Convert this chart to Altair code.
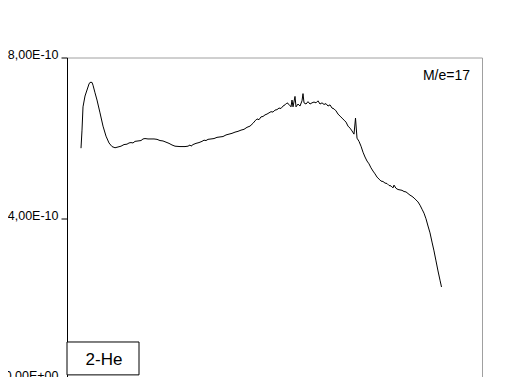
import altair as alt
import pandas as pd

# x position (arbitrary units along scan) and signal (units of 1e-10)
x_vals = [14, 15, 16, 18, 20, 22, 23, 25, 26, 28, 30, 33, 36, 39, 42, 45, 48, 51, 54, 57,
          60, 62, 64, 66, 68, 71, 74, 76, 78, 81, 84, 87, 90, 93, 96, 99, 102, 105, 108, 113,
          118, 121, 123, 124, 126, 129, 132, 135, 137, 139, 141, 144, 147, 150, 153, 156, 159, 162, 165, 168,
          171, 174, 177, 180, 183, 186, 188, 190, 192, 194, 196, 198, 200, 202, 204, 206, 208, 210, 212, 214,
          216, 218, 220, 222, 224, 225, 226, 228, 229, 231, 233, 235, 236, 237, 239, 241, 243, 245, 247, 249,
          251, 253, 255, 257, 259, 261, 263, 265, 267, 269, 271, 273, 275, 277, 279, 281, 283, 285, 287, 288.5,
          290, 292, 294, 296, 298, 300, 302, 304, 306, 308, 310, 312, 314, 316, 318, 320, 322, 324, 326, 327,
          329, 331, 333, 335, 337, 339, 341, 343, 345, 347, 349, 351, 353, 355, 357, 359, 361, 363, 365, 367,
          369, 371, 373, 374.5]
y_vals = [5.74, 6.19, 6.77, 7.04, 7.19, 7.34, 7.38, 7.38, 7.31, 7.12, 6.94, 6.62, 6.29, 6.04, 5.87, 5.78, 5.75, 5.77, 5.79, 5.83,
          5.84, 5.87, 5.88, 5.87, 5.91, 5.92, 5.93, 5.97, 5.98, 5.97, 5.97, 5.97, 5.96, 5.93, 5.92, 5.89, 5.86, 5.82, 5.79, 5.78,
          5.78, 5.79, 5.82, 5.79, 5.83, 5.86, 5.88, 5.91, 5.94, 5.93, 5.96, 5.97, 5.98, 6.01, 6.02, 6.03, 6.07, 6.09, 6.11, 6.14,
          6.16, 6.19, 6.21, 6.26, 6.29, 6.36, 6.42, 6.47, 6.45, 6.52, 6.53, 6.57, 6.59, 6.62, 6.65, 6.64, 6.69, 6.70, 6.74, 6.73,
          6.79, 6.82, 6.87, 6.83, 6.77, 6.94, 6.77, 7.03, 6.77, 6.84, 6.79, 6.92, 7.10, 6.87, 6.84, 6.90, 6.84, 6.87, 6.89, 6.87,
          6.92, 6.84, 6.87, 6.83, 6.85, 6.79, 6.82, 6.74, 6.72, 6.67, 6.59, 6.54, 6.49, 6.44, 6.39, 6.29, 6.24, 6.17, 6.09, 6.49,
          5.99, 5.91, 5.79, 5.64, 5.52, 5.42, 5.35, 5.25, 5.17, 5.10, 5.02, 4.97, 4.92, 4.91, 4.87, 4.86, 4.81, 4.80, 4.75, 4.82,
          4.74, 4.71, 4.70, 4.69, 4.66, 4.65, 4.61, 4.57, 4.54, 4.50, 4.45, 4.40, 4.32, 4.22, 4.12, 3.98, 3.80, 3.63, 3.40, 3.18,
          2.93, 2.68, 2.45, 2.28]

y_ticks = [0, 4e-10, 8e-10]
y_tick_labels = ["0,00E+00", "4,00E-10", "8,00E-10"]

mass_label = ["M/e=17"]
mass_x = [403]
mass_y = [7.53e-10]

box_label = ["2-He"]
box_x = [0]
box_x2 = [72]
box_y = [0.09e-10]
box_y2 = [0.91e-10]
box_tx = [37]
box_ty = [0.47e-10]

df = pd.DataFrame({"x": x_vals, "y": [v * 1e-10 for v in y_vals]})
mass_df = pd.DataFrame({"x": mass_x, "y": mass_y, "t": mass_label})
box_df = pd.DataFrame({"x": box_x, "x2": box_x2, "y": box_y, "y2": box_y2,
                       "tx": box_tx, "ty": box_ty, "t": box_label})

label_expr = " : ".join(
    f"abs(datum.value - {v}) < 1e-12 ? '{l}'" for v, l in zip(y_ticks, y_tick_labels)
) + " : ''"

xs = alt.Scale(domain=[0, 415], nice=False, zero=False)
ys = alt.Scale(domain=[0, 8e-10], nice=False)

yaxis = alt.Axis(values=y_ticks, labelExpr=label_expr, title=None, grid=False,
                 labelFont="Liberation Sans", labelFontSize=12.5, labelColor="black",
                 tickColor="black", tickSize=6, labelPadding=3, domainColor="black",
                 labelOffset=-3, labelBaseline="middle")

line = alt.Chart(df).mark_line(color="black", strokeWidth=1).encode(
    x=alt.X("x:Q", scale=xs, axis=None),
    y=alt.Y("y:Q", scale=ys, axis=yaxis),
)

mass = alt.Chart(mass_df).mark_text(align="right", baseline="middle", font="Liberation Sans",
                                     fontSize=14, color="black").encode(
    x=alt.X("x:Q", scale=xs), y=alt.Y("y:Q", scale=ys), text="t:N")

box = alt.Chart(box_df).mark_rect(fill="white", stroke="black", strokeWidth=1).encode(
    x=alt.X("x:Q", scale=xs), x2="x2:Q", y=alt.Y("y:Q", scale=ys), y2="y2:Q")

box_text = alt.Chart(box_df).mark_text(align="center", baseline="middle", font="Liberation Sans",
                                        fontSize=17, color="black").encode(
    x=alt.X("tx:Q", scale=xs), y=alt.Y("ty:Q", scale=ys), text="t:N")

chart = alt.layer(line, mass, box, box_text).properties(
    width=415, height=321,
    autosize=alt.AutoSizeParams(type="none"),
    padding={"left": 59, "top": 49.5, "right": 30, "bottom": 0},
).configure_view(stroke="#a0a0a0", strokeWidth=1)

chart.save("out.html", embed_options={"renderer": "svg", "actions": False})
